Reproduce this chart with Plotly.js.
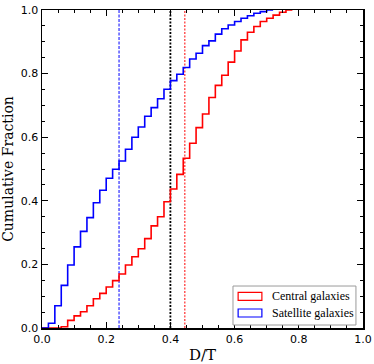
<!DOCTYPE html>
<html>
<head>
<meta charset="utf-8">
<script src="https://cdn.plot.ly/plotly-3.0.1.min.js"></script>
<style>
  body { margin: 0; background: #fff; }
  #plot { width: 374px; height: 364px; }
</style>
</head>
<body>
<div id="plot"></div>
<script>
// bin left edges (D/T) and cumulative fractions
var satEdges = [0.00, 0.02, 0.04, 0.06, 0.08, 0.10, 0.12, 0.14, 0.16, 0.18,
                0.20, 0.22, 0.24, 0.26, 0.28, 0.30, 0.32, 0.34, 0.36, 0.38,
                0.40, 0.42, 0.44, 0.46, 0.48, 0.50, 0.52, 0.54, 0.56, 0.58,
                0.60, 0.62, 0.64, 0.66, 0.68, 0.70, 0.72];
var satFrac = [0.000, 0.015, 0.070, 0.134, 0.198, 0.255, 0.304, 0.347, 0.394, 0.433,
               0.471, 0.499, 0.525, 0.562, 0.600, 0.632, 0.666, 0.693, 0.721, 0.751,
               0.778, 0.798, 0.819, 0.846, 0.864, 0.888, 0.903, 0.924, 0.941, 0.953,
               0.964, 0.974, 0.982, 0.990, 0.995, 1.000, 1.000];

var cenEdges = [0.00, 0.02, 0.04, 0.06, 0.08, 0.10, 0.12, 0.14, 0.16, 0.18,
                0.20, 0.22, 0.24, 0.26, 0.28, 0.30, 0.32, 0.34, 0.36, 0.38,
                0.40, 0.42, 0.44, 0.46, 0.48, 0.50, 0.52, 0.54, 0.56, 0.58,
                0.60, 0.62, 0.64, 0.66, 0.68, 0.70, 0.72, 0.74, 0.76, 0.78];
var cenFrac = [0.000, 0.000, 0.000, 0.004, 0.024, 0.038, 0.051, 0.070, 0.092, 0.109,
               0.129, 0.149, 0.170, 0.198, 0.224, 0.249, 0.281, 0.321, 0.350, 0.397,
               0.437, 0.483, 0.534, 0.581, 0.630, 0.673, 0.725, 0.763, 0.795, 0.836,
               0.871, 0.906, 0.930, 0.948, 0.964, 0.974, 0.984, 0.993, 1.000, 1.000];

// medians drawn as vertical lines
var satMedian = 0.24;
var allMedian = 0.40;
var cenMedian = 0.445;

var seriesNames = ["Central galaxies", "Satellite galaxies"];
var seriesColors = ["#ff0000", "#0000ff"];

var serif = "DejaVu Serif, Liberation Serif, serif";

var cenTrace = {
    x: cenEdges, y: cenFrac, mode: "lines", name: seriesNames[0],
    line: {shape: "hv", color: seriesColors[0], width: 1.6},
    showlegend: false, hoverinfo: "skip"
};
var satTrace = {
    x: satEdges, y: satFrac, mode: "lines", name: seriesNames[1],
    line: {shape: "hv", color: seriesColors[1], width: 1.6},
    showlegend: false, hoverinfo: "skip"
};

function vline(x, color, dash, width) {
    return {type: "line", xref: "x", yref: "paper", x0: x, x1: x, y0: 0, y1: 1,
            line: {color: color, dash: dash, width: width}, layer: "below"};
}

// hand-made legend box with outlined patches (matplotlib style)
var legendShapes = [
    {type: "rect", xref: "paper", yref: "paper", x0: 0.595, x1: 0.978, y0: 0.0094, y1: 0.132,
     line: {color: "#9a9a9a", width: 1}, fillcolor: "#fff", layer: "above"},
    {type: "rect", xref: "paper", yref: "paper", x0: 0.611, x1: 0.685, y0: 0.087, y1: 0.112,
     line: {color: seriesColors[0], width: 1.2}, fillcolor: "rgba(0,0,0,0)", layer: "above"},
    {type: "rect", xref: "paper", yref: "paper", x0: 0.611, x1: 0.685, y0: 0.0346, y1: 0.0598,
     line: {color: seriesColors[1], width: 1.2}, fillcolor: "rgba(0,0,0,0)", layer: "above"}
];
var legendText = [
    {xref: "paper", yref: "paper", x: 0.71, y: 0.0997, xanchor: "left", yanchor: "middle",
     text: seriesNames[0], showarrow: false,
     font: {family: "Liberation Serif, serif", size: 12, color: "#000"}},
    {xref: "paper", yref: "paper", x: 0.71, y: 0.0472, xanchor: "left", yanchor: "middle",
     text: seriesNames[1], showarrow: false,
     font: {family: "Liberation Serif, serif", size: 12, color: "#000"}}
];

var axisCommon = {
    range: [0, 1], dtick: 0.2, tickformat: ".1f",
    ticks: "inside", ticklen: 6, tickwidth: 1, tickcolor: "#000",
    minor: {dtick: 0.05, ticks: "inside", ticklen: 3, tickcolor: "#000", showgrid: false},
    showline: true, linecolor: "#000", linewidth: 1.5, mirror: "allticks",
    showgrid: false, zeroline: false,
    tickfont: {family: "DejaVu Sans", size: 11, color: "#000"}
};

var layout = {
    width: 374, height: 364,
    margin: {l: 42, r: 11, t: 10, b: 36},
    paper_bgcolor: "#fff", plot_bgcolor: "#fff",
    showlegend: false,
    xaxis: Object.assign({}, axisCommon, {
        title: {text: "D/T", font: {family: serif, size: 15, color: "#000"}, standoff: 5}
    }),
    yaxis: Object.assign({}, axisCommon, {
        title: {text: "Cumulative Fraction", font: {family: serif, size: 14, color: "#000"}, standoff: 5}
    }),
    shapes: [
        vline(satMedian, "#0000ff", "3px,1.5px", 1),
        vline(allMedian, "#000000", "2px,1.5px", 1.8),
        vline(cenMedian, "#ff0000", "2px,1.5px", 1)
    ].concat(legendShapes),
    annotations: legendText
};

Plotly.newPlot("plot", [cenTrace, satTrace], layout, {displayModeBar: false, staticPlot: true});
</script>
</body>
</html>
